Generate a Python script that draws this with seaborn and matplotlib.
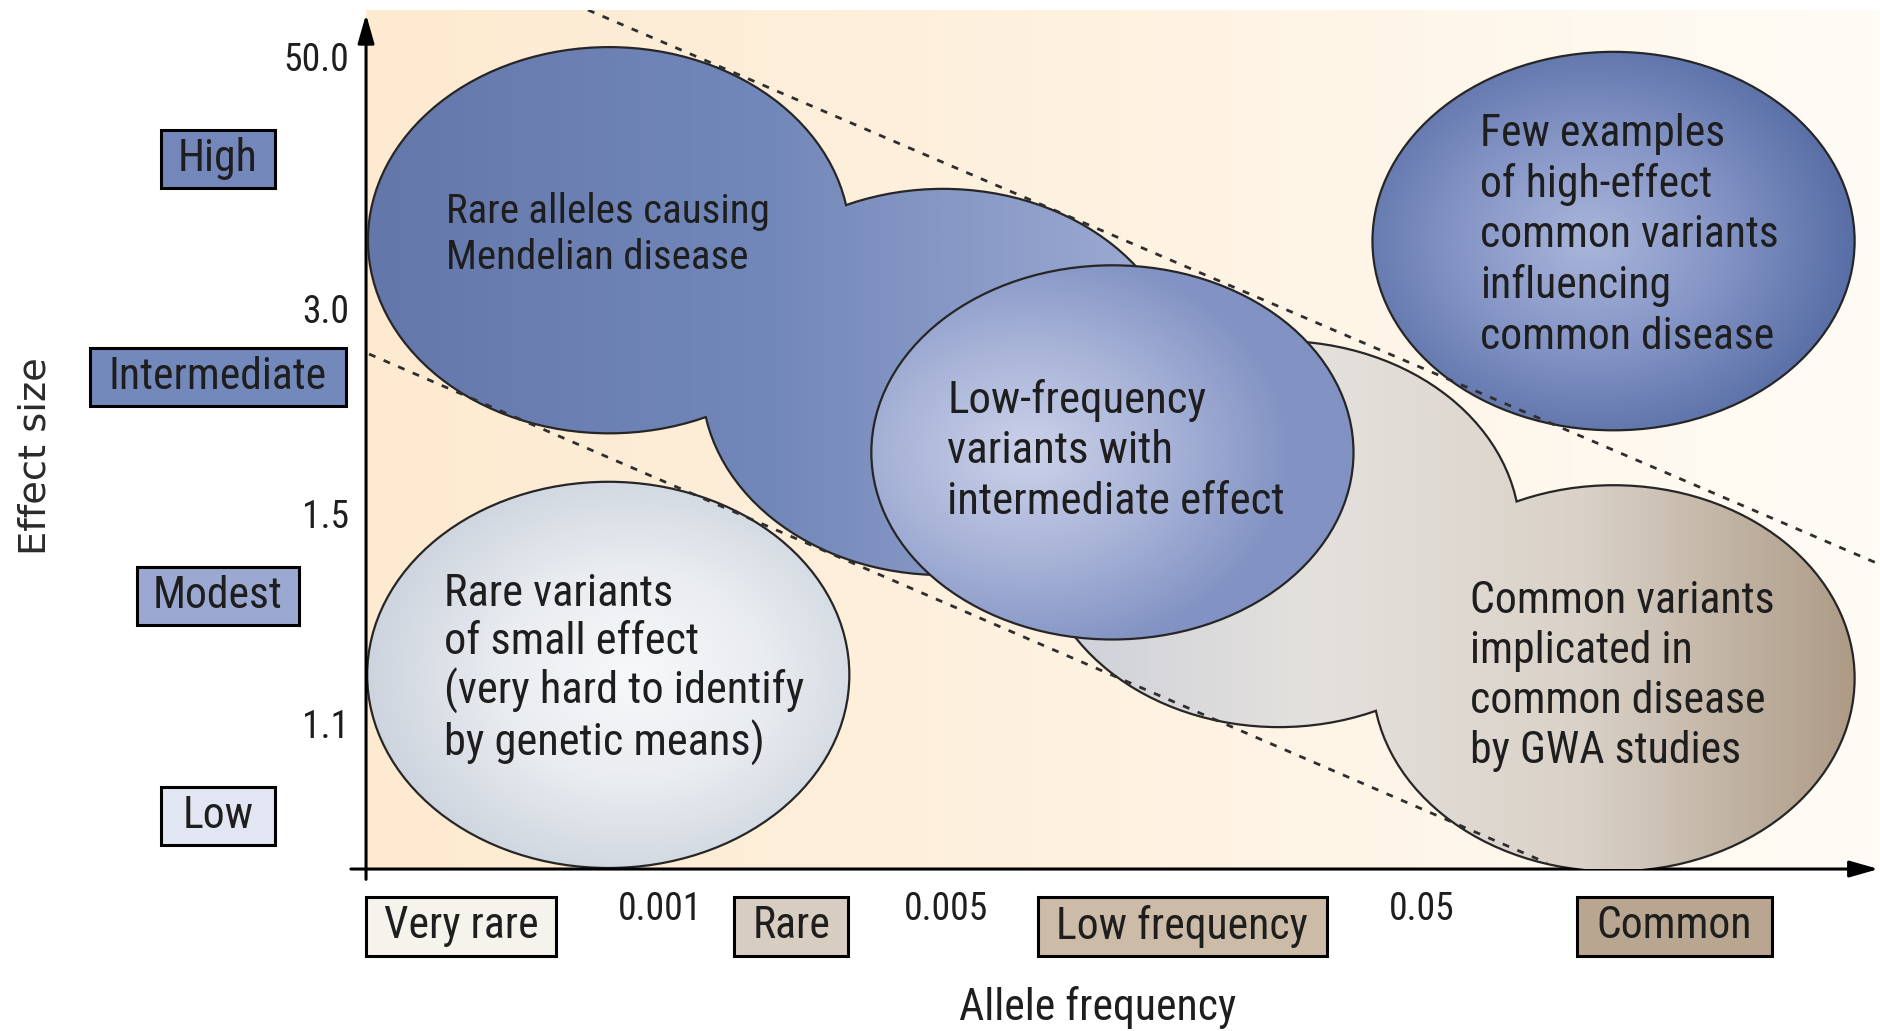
import numpy as np
import seaborn as sns
import matplotlib.pyplot as plt
from matplotlib.patches import Ellipse, Rectangle
from matplotlib.colors import LinearSegmentedColormap
from matplotlib import transforms
from matplotlib import font_manager as fm

# schematic axes: allele frequency (x) and effect size (y), both on a 0-100 layout scale
freq_ticks = [19.4, 38.3, 69.7]
freq_tick_labels = ["0.001", "0.005", "0.05"]
freq_classes = ["Very rare", "Rare", "Low frequency", "Common"]
freq_class_x = [6.3, 28.1, 53.9, 86.4]
freq_class_colors = ["#f6f2ec", "#d8cdc1", "#cbbba7", "#b9a690"]

effect_ticks = [94.6, 65.2, 41.4, 16.9]
effect_tick_labels = ["50.0", "3.0", "1.5", "1.1"]
effect_classes = ["High", "Intermediate", "Modest", "Low"]
effect_class_y = [82.7, 57.3, 31.8, 6.2]
effect_class_colors = ["#7387bb", "#7489bb", "#9ba8d1", "#e2e6f3"]

# bubbles (centres)
mendel_x, mendel_y = [16.05, 38.1], [73.2, 56.7]
gwa_x, gwa_y = [60.3, 82.4], [39.0, 22.2]
lowfreq_x, lowfreq_y = 49.3, 48.5
few_x, few_y = 82.4, 73.1
small_x, small_y = 16.0, 22.6
bubble_w, bubble_h = 31.7, 44.7

region_text = ["Rare alleles causing\nMendelian disease",
               "Low-frequency\nvariants with\nintermediate effect",
               "Few examples\nof high-effect\ncommon variants\ninfluencing\ncommon disease",
               "Common variants\nimplicated in\ncommon disease\nby GWA studies",
               "Rare variants\nof small effect\n(very hard to identify\nby genetic means)"]
region_x = [5.28, 38.4, 73.6, 72.9, 5.15]
region_y = [73.9, 48.7, 73.8, 22.5, 23.2]

# dashed bounds of the diagonal band
upper_x, upper_y = [14.66, 99.8], [100.0, 35.6]
lower_x, lower_y = [0.2, 78.0], [59.95, 0.7]

sns.set_style("white")


def pick_font():
    ents = [f for f in fm.fontManager.ttflist if f.style == "normal" and f.weight in (300, 400, "normal", "regular")]
    for name in ["Liberation Sans Narrow", "Roboto Condensed", "Open Sans Condensed", "Noto Sans Condensed"]:
        for f in ents:
            if f.name == name:
                return fm.FontProperties(fname=f.fname)
    for name in ["DejaVu Sans", "Noto Sans", "Open Sans", "Roboto"]:
        for f in ents:
            if f.name == name and "condensed" in str(f.stretch):
                return fm.FontProperties(fname=f.fname)
    for f in ents:
        if "Condensed" in f.name or "Narrow" in f.name:
            return fm.FontProperties(fname=f.fname)
    return fm.FontProperties(family=["Roboto", "DejaVu Sans"])


fp = pick_font()

fig = plt.figure(figsize=(18.8, 10.31), dpi=100)
ax = fig.add_axes([0.1947, 0.1571, 0.8053, 0.8332])


def cmap_of(*cols):
    return LinearSegmentedColormap.from_list("g", list(cols))


def radial(cx=0.0, cy=0.0, n=200):
    u = np.linspace(-1, 1, n)
    X, Y = np.meshgrid(u, u)
    return np.clip(np.hypot(X - cx, Y - cy) / 1.1, 0, 1)


def bubble_group(xs, ys, img, cmap, extent, z, w=bubble_w, h=bubble_h):
    pats = []
    for x, y in zip(xs, ys):
        p = Ellipse((x, y), w, h, fill=False, ec="#262626", lw=3.2, zorder=z)
        ax.add_patch(p)
        pats.append(p)
    for p in pats:
        im = ax.imshow(img, cmap=cmap, extent=extent, origin="lower", aspect="auto",
                       interpolation="bilinear", zorder=z + 0.1)
        im.set_clip_path(p)


# background
bg = np.linspace(0, 1, 256)[None, :]
ax.imshow(bg, cmap=cmap_of("#fdead0", "#fef2e1", "#fffcf6"), extent=(0, 100, 0, 100),
          origin="lower", aspect="auto", zorder=0)

lin = np.linspace(0, 1, 256)[None, :]
bubble_group([small_x], [small_y], radial(0.1, 0.0), cmap_of("#f7f8fa", "#e9ecf0", "#cdd4de"),
             (small_x - 16, small_x + 16, small_y - 23, small_y + 23), 2)
bubble_group(gwa_x, gwa_y, lin, cmap_of("#cdd0da", "#e4e1dd", "#dad2c8", "#ad9b86"),
             (44.4, 98.3, 0, 62), 3)
bubble_group(mendel_x, mendel_y, lin, cmap_of("#6477ab", "#7388ba", "#a0add4"),
             (0, 54, 34, 96), 4)
bubble_group([few_x], [few_y], radial(-0.1, 0.0), cmap_of("#a9b5da", "#8494c5", "#586ea6"),
             (few_x - 16, few_x + 16, few_y - 23, few_y + 23), 5, h=43.8)
bubble_group([lowfreq_x], [lowfreq_y], radial(-0.35, 0.0), cmap_of("#cbd1e9", "#a9b4d8", "#8192c3"),
             (lowfreq_x - 16, lowfreq_x + 16, lowfreq_y - 22, lowfreq_y + 22), 6, h=43.3)

# dashed band
for xs, ys in [(upper_x, upper_y), (lower_x, lower_y)]:
    sns.lineplot(x=xs, y=ys, ax=ax, color="#2e2e2e", lw=2.0, sort=False, zorder=7,
                 linestyle=(0, (2.5, 3.2)))

region_txt = [ax.text(x, y, t, ha="left", va="center", fontproperties=fp, fontsize=30,
                      color="#1e1e1e", linespacing=1.0, zorder=8)
              for t, x, y in zip(region_text, region_x, region_y)]

# axes with arrows
ax.set_xlim(0, 100)
ax.set_ylim(0, 100)
for sp in ax.spines.values():
    sp.set_visible(False)
arrow = dict(arrowstyle="-|>,head_length=0.7,head_width=0.2", lw=2.2, color="black",
             shrinkA=0, shrinkB=0, mutation_scale=25)
ax.annotate("", xy=(0, 0.995), xytext=(0, -0.012), xycoords="axes fraction", arrowprops=arrow)
ax.annotate("", xy=(0.999, 0), xytext=(-0.01, 0), xycoords="axes fraction", arrowprops=arrow)

ax.set_xticks(freq_ticks, freq_tick_labels, fontproperties=fp)
ax.set_yticks(effect_ticks, effect_tick_labels, fontproperties=fp)
ax.tick_params(axis="both", length=0, labelsize=26, labelcolor="#1e1e1e")
ax.tick_params(axis="x", pad=16)
ax.tick_params(axis="y", pad=12)

# category boxes (sizes in pixels of the 1880x1031 canvas)
ytr = transforms.blended_transform_factory(ax.transAxes, ax.transData)
xtr = transforms.blended_transform_factory(ax.transData, ax.transAxes)
effect_box_w = [114, 256, 162, 114]
freq_box_w = [190, 114, 289, 195]
box_txt = []
for lab, y, c, bw in zip(effect_classes, effect_class_y, effect_class_colors, effect_box_w):
    ax.add_patch(Rectangle((-0.0978 - bw / 2 / 1514, y - 29 / 8.59), bw / 1514, 58 / 8.59,
                           transform=ytr, fc=c, ec="black", lw=2.2, clip_on=False))
    box_txt.append(ax.text(-0.0978, y, lab, transform=ytr, ha="center", va="center",
                           fontproperties=fp, fontsize=32, color="#1e1e1e"))
for lab, x, c, bw in zip(freq_classes, freq_class_x, freq_class_colors, freq_box_w):
    ax.add_patch(Rectangle((x - bw / 2 / 15.14, -0.0669 - 29.5 / 859), bw / 15.14, 59 / 859,
                           transform=xtr, fc=c, ec="black", lw=2.2, clip_on=False))
    box_txt.append(ax.text(x, -0.0669, lab, transform=xtr, ha="center", va="center",
                           fontproperties=fp, fontsize=32, color="#1e1e1e"))

xlab = ax.text(48.3, -0.161, "Allele frequency", transform=xtr, ha="center", va="center",
               fontproperties=fp, fontsize=32, color="#1e1e1e")
ylab = ax.text(-0.218, 48.1, "Effect size", transform=ytr, ha="center", va="center", fontsize=24,
               rotation=90, family="DejaVu Sans", color="#2a2a2a")

# size the text to the widths of the original artwork
fig.canvas.draw()
rend = fig.canvas.get_renderer()


def wid(t):
    return t.get_window_extent(rend).width


for t, target in zip(region_txt, [324, 338, 299, 305, 360]):
    t.set_fontsize(t.get_fontsize() * target / wid(t))
fig.canvas.draw()
for t, step in zip(region_txt, [48, 53, 53, 52, 52]):
    lines = t.get_text().split("\n")
    h_all = t.get_window_extent(rend).height
    tmp = ax.text(0, 0, lines[0], fontproperties=fp, fontsize=t.get_fontsize())
    h_one = tmp.get_window_extent(rend).height
    tmp.remove()
    cur = (h_all - h_one) / (len(lines) - 1)
    t.set_linespacing(step / cur)

box_targets = [77, 222, 135, 70, 155, 75, 258, 158]
k = np.mean([tg / wid(t) for t, tg in zip(box_txt, box_targets)])
for t in box_txt:
    t.set_fontsize(t.get_fontsize() * k)
xlab.set_fontsize(xlab.get_fontsize() * 278 / wid(xlab))
ylab.set_fontsize(ylab.get_fontsize() * 198 / ylab.get_window_extent(rend).height)

tick_w = [wid(t) for t in ax.get_xticklabels() + ax.get_yticklabels()]
k = np.mean(np.array([74, 86, 64, 64, 49, 49, 49]) / np.array(tick_w))
ax.tick_params(axis="both", labelsize=26 * k)

fig.savefig("out.png", dpi=100)
